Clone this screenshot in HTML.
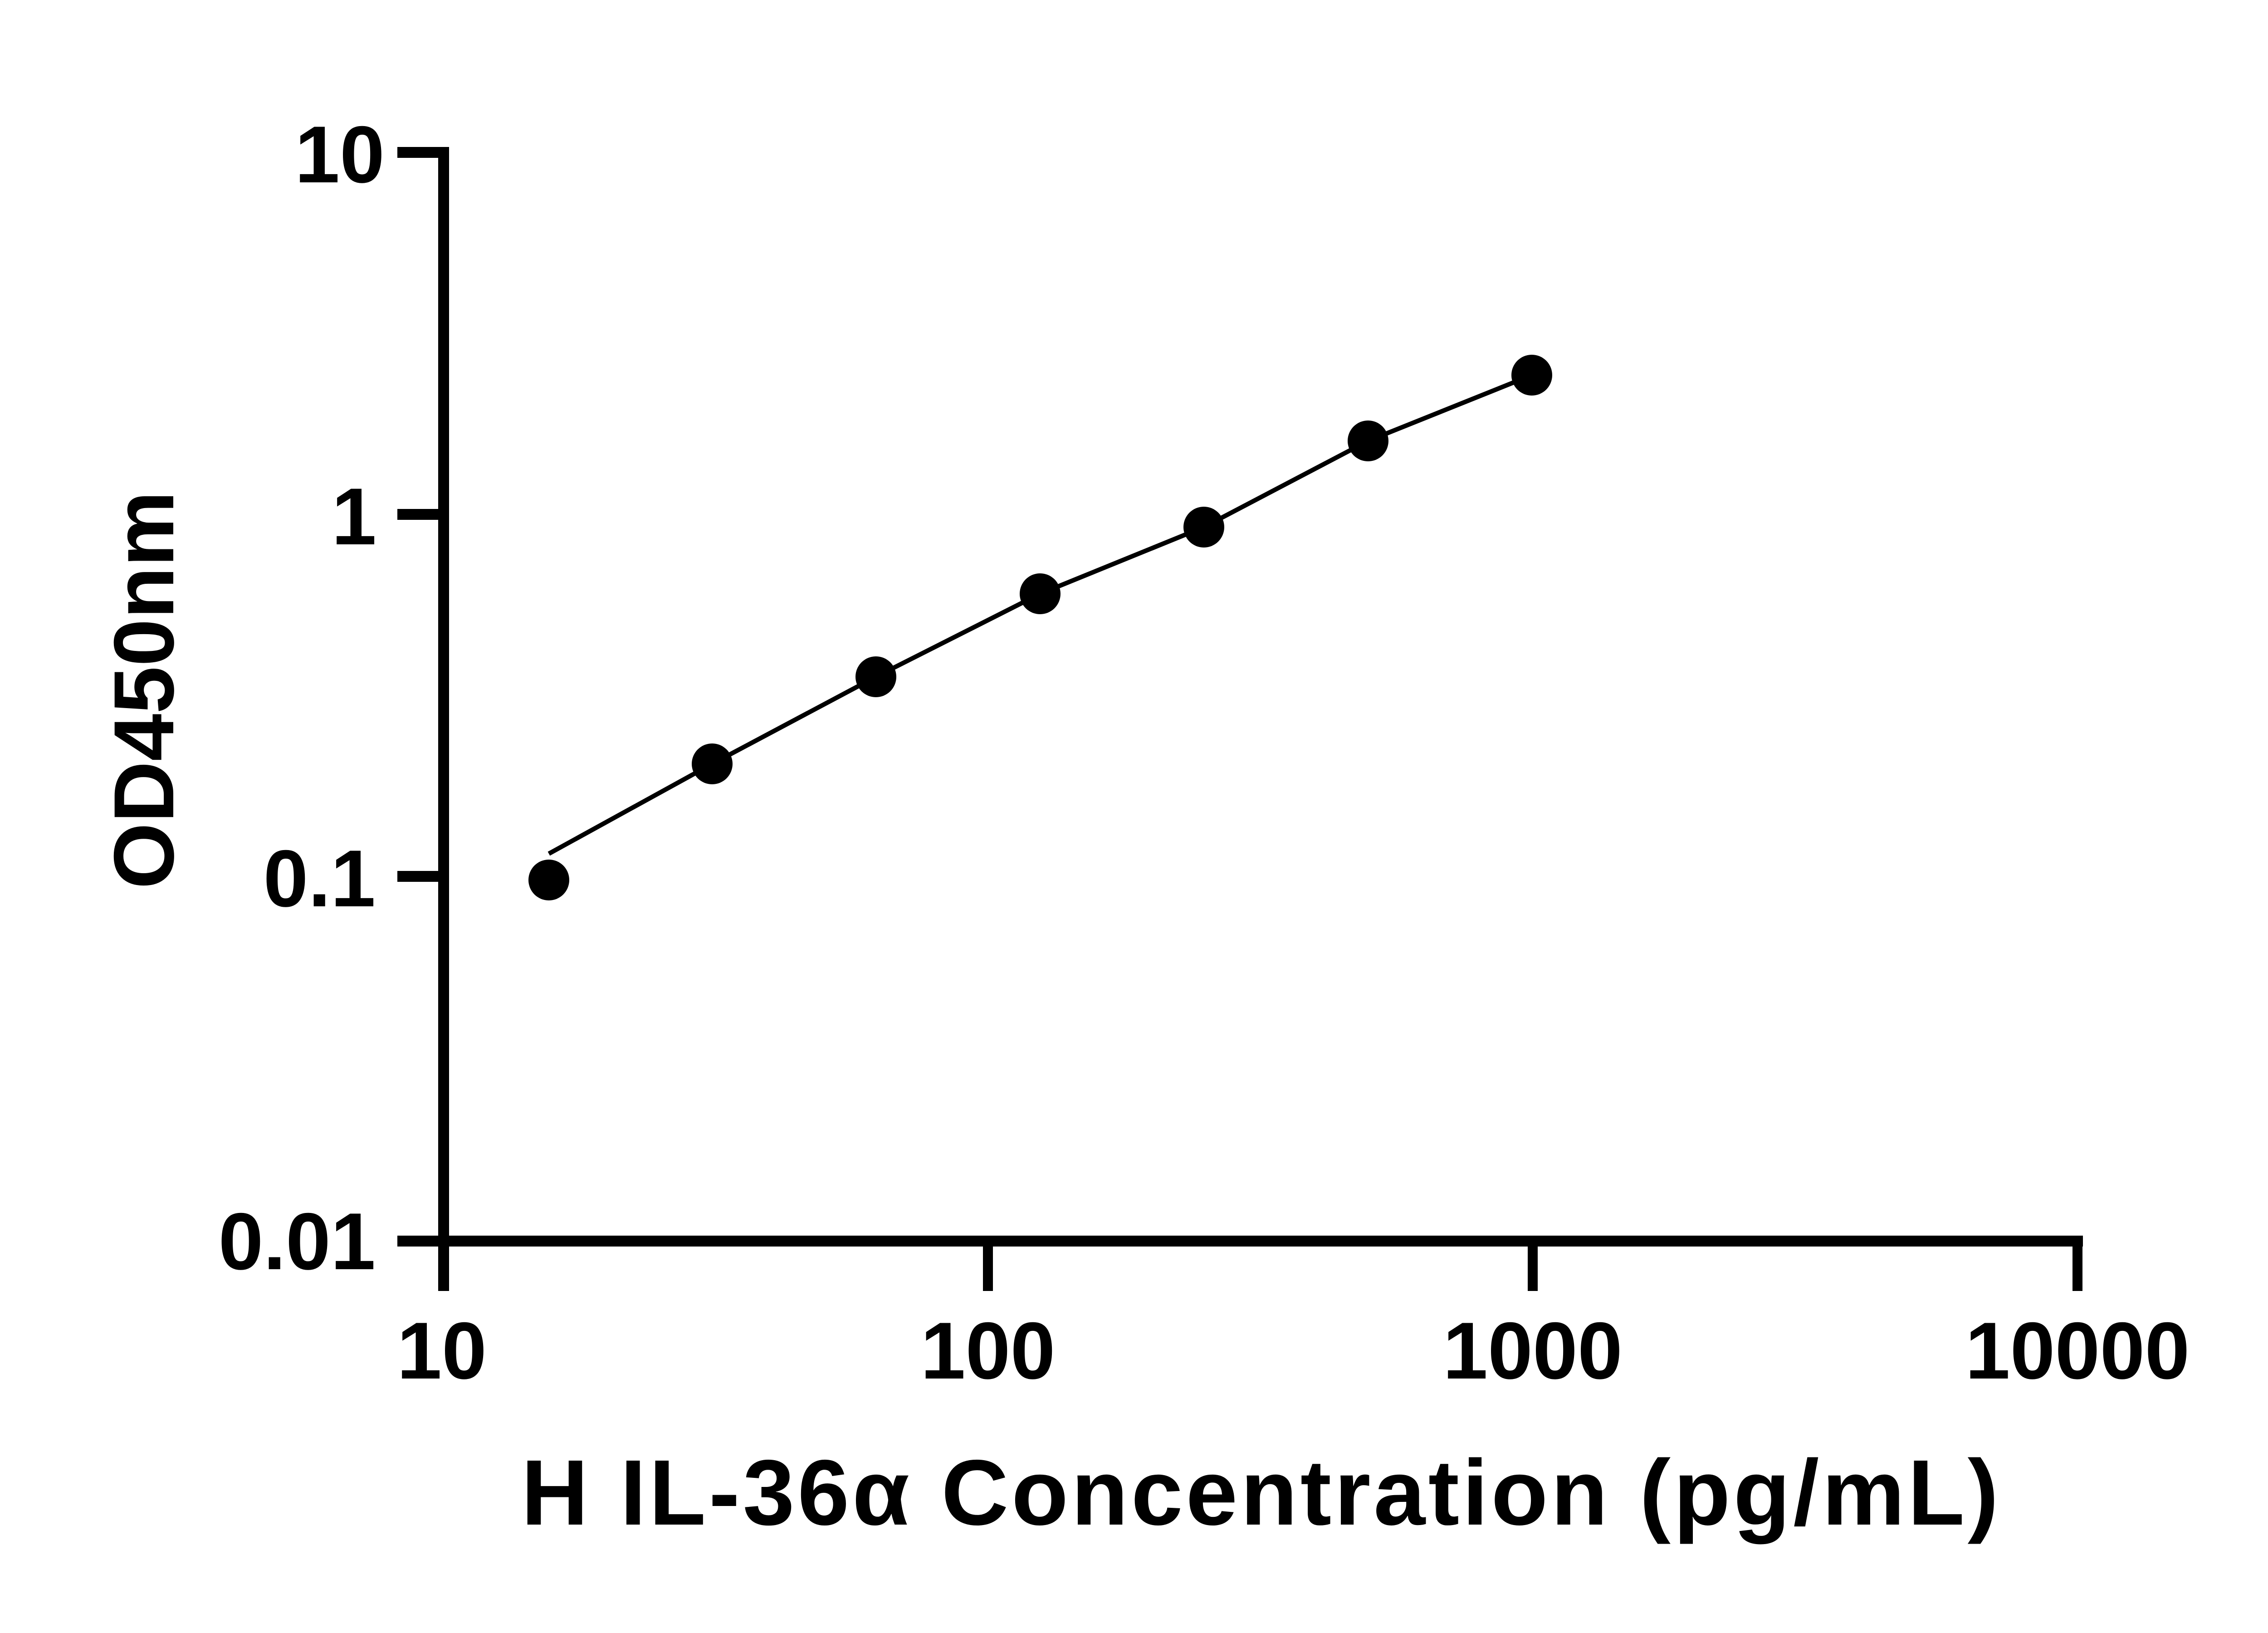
<!DOCTYPE html>
<html><head><meta charset="utf-8"><style>html,body{margin:0;padding:0;background:#fff}svg{display:block}</style></head>
<body>
<svg width="5130" height="3600" viewBox="0 0 5130 3600" xmlns="http://www.w3.org/2000/svg">
<rect width="5130" height="3600" fill="#fff"/>
<g stroke="#000" fill="none">
<line x1="978" y1="324" x2="978" y2="2846" stroke-width="24"/>
<line x1="966" y1="2736" x2="4592" y2="2736" stroke-width="24"/>
<line x1="876" y1="336" x2="978" y2="336" stroke-width="24"/>
<line x1="876" y1="1134" x2="978" y2="1134" stroke-width="24"/>
<line x1="876" y1="1932" x2="978" y2="1932" stroke-width="24"/>
<line x1="876" y1="2736" x2="978" y2="2736" stroke-width="24"/>
<line x1="2178" y1="2736" x2="2178" y2="2846" stroke-width="22"/>
<line x1="3379" y1="2736" x2="3379" y2="2846" stroke-width="22"/>
<line x1="4580" y1="2736" x2="4580" y2="2846" stroke-width="22"/>
<polyline points="1210,1882 1570,1684 1931,1492 2293,1309 2654,1162 3016,972 3377,827" stroke-width="10"/>
</g>
<g fill="#000">
<circle cx="1210" cy="1940" r="45"/>
<circle cx="1570" cy="1684" r="45"/>
<circle cx="1931" cy="1492" r="45"/>
<circle cx="2293" cy="1309" r="45"/>
<circle cx="2654" cy="1162" r="45"/>
<circle cx="3016" cy="972" r="45"/>
<circle cx="3377" cy="827" r="45"/>
</g>
<g font-family="Liberation Sans, Arial, sans-serif" font-weight="bold" font-size="178" fill="#000" text-anchor="end">
<text x="848" y="402">10</text>
<text x="830" y="1200">1</text>
<text x="828" y="1998">0.1</text>
<text x="828" y="2798">0.01</text>
</g>
<g font-family="Liberation Sans, Arial, sans-serif" font-weight="bold" font-size="178" fill="#000" text-anchor="middle">
<text x="974" y="3039">10</text>
<text x="2178" y="3039">100</text>
<text x="3379" y="3039">1000</text>
<text x="4580" y="3039">10000</text>
</g>
<text x="1149" y="3361" font-family="Liberation Sans, Arial, sans-serif" font-weight="bold" font-size="205" textLength="3257" lengthAdjust="spacing">H IL-36α Concentration (pg/mL)</text>
<text transform="translate(382,1960) rotate(-90)" font-family="Liberation Sans, Arial, sans-serif" font-weight="bold" font-size="188">OD450nm</text>
</svg>
</body></html>
